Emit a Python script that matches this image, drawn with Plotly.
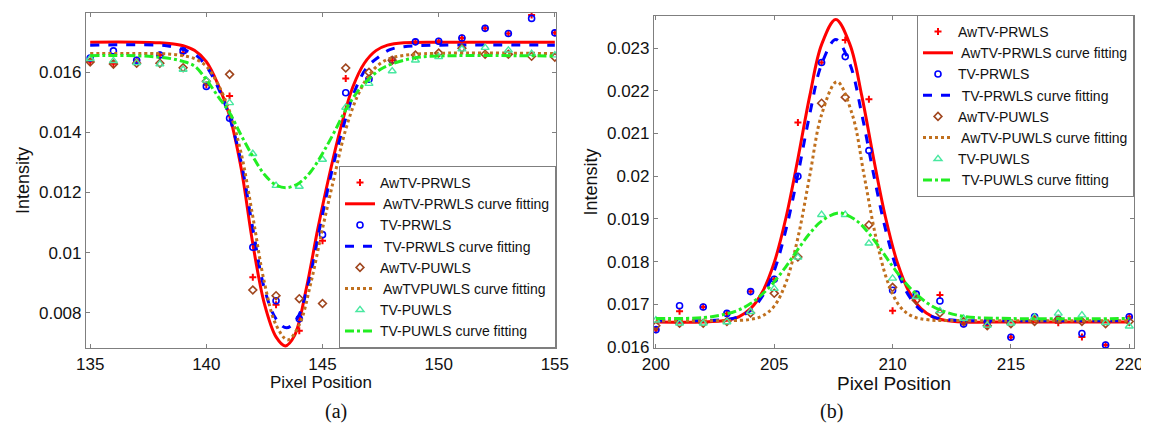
import plotly.graph_objects as go

# ---------------- Panel (a) ----------------
a_x = list(range(135, 156))
a_awtv_prwls = [0.01635, 0.01628, 0.0164, 0.01657, 0.01665, 0.01558, 0.01521, 0.00918, 0.00827, 0.0074,
                0.0104, 0.01579, 0.0158, 0.0164, 0.01701, 0.01703, 0.01714, 0.01746, 0.01729, 0.0179, 0.01731]
a_tv_prwls = [0.01647, 0.01671, 0.0164, 0.01657, 0.01671, 0.01553, 0.01447, 0.01018, 0.0084, 0.0078,
              0.0106, 0.01532, 0.01577, 0.0164, 0.01701, 0.01703, 0.01714, 0.01746, 0.01729, 0.01779, 0.01731]
a_awtv_puwls = [0.01634, 0.01627, 0.0163, 0.0163, 0.01615, 0.0157, 0.01593, 0.00876, 0.00857, 0.00847,
                0.00831, 0.01614, 0.0160, 0.0164, 0.01657, 0.01664, 0.0168, 0.0166, 0.0166, 0.01653, 0.0165]
a_tv_puwls = [0.01645, 0.01638, 0.01631, 0.01627, 0.01609, 0.01573, 0.01498, 0.01329, 0.01223, 0.0122,
              0.0131, 0.01483, 0.01562, 0.01604, 0.0164, 0.01651, 0.01677, 0.01682, 0.01673, 0.01662, 0.01657]

a_fit_red_x = [135, 137, 138, 138.5, 139, 139.5, 140, 140.5, 141, 141.5, 142, 142.5, 143, 143.4, 143.8,
               144.3, 144.8, 145.3, 145.8, 146.3, 146.8, 147.3, 147.8, 148.5, 150, 155]
a_fit_red_y = [0.0170, 0.0170, 0.01698, 0.01695, 0.01688, 0.01672, 0.01635, 0.01560, 0.01455, 0.01280,
               0.01030, 0.00830, 0.00720, 0.00690, 0.00725, 0.00880, 0.01080, 0.01260, 0.01420, 0.01550,
               0.01630, 0.01672, 0.01690, 0.01698, 0.0170, 0.0170]
a_fit_blue_x = [135, 138, 138.5, 139, 139.5, 140, 140.5, 141, 141.5, 142, 142.5, 143, 143.45, 143.9,
                144.4, 144.9, 145.4, 145.9, 146.4, 146.9, 147.4, 147.9, 148.5, 150, 155]
a_fit_blue_y = [0.0169, 0.0169, 0.01685, 0.01675, 0.0166, 0.0162, 0.0155, 0.0145, 0.0130, 0.0108, 0.0088,
                0.0078, 0.0075, 0.0078, 0.0090, 0.0109, 0.0127, 0.0142, 0.0154, 0.01615, 0.0165, 0.01675,
                0.01685, 0.0169, 0.0169]
a_fit_brown_x = [135, 138, 138.5, 139, 139.5, 140, 140.5, 141, 141.5, 142, 142.5, 143, 143.5, 144, 144.5,
                 145, 145.5, 146, 146.5, 147, 147.5, 148, 149, 155]
a_fit_brown_y = [0.01662, 0.01662, 0.0166, 0.01655, 0.01645, 0.0162, 0.0156, 0.0147, 0.0133, 0.0112,
                 0.0090, 0.0076, 0.0071, 0.0076, 0.0090, 0.0108, 0.0125, 0.0141, 0.0152, 0.0159, 0.0163,
                 0.01648, 0.0166, 0.01662]
a_fit_green_x = [135, 137, 138, 138.5, 139, 139.5, 140, 140.5, 141, 141.5, 142, 142.5, 143, 143.45, 144,
                 144.5, 145, 145.5, 146, 146.5, 147, 147.5, 148, 149, 150, 155]
a_fit_green_y = [0.01655, 0.01655, 0.0165, 0.01645, 0.01636, 0.0162, 0.01575, 0.0152, 0.01465, 0.0139,
                 0.0132, 0.0126, 0.01225, 0.01216, 0.01232, 0.0127, 0.0133, 0.0140, 0.01475, 0.01535,
                 0.01578, 0.0161, 0.01628, 0.01648, 0.01654, 0.01654]

# ---------------- Panel (b) ----------------
b_x = list(range(200, 221))
b_awtv_prwls = [0.01641, 0.01684, 0.01694, 0.01679, 0.0173, 0.01759, 0.02126, 0.02266, 0.02319, 0.0218,
                0.01685, 0.0172, 0.01722, 0.01654, 0.0165, 0.01623, 0.01671, 0.01657, 0.01624, 0.01605, 0.01671]
b_tv_prwls = [0.01641, 0.01697, 0.01694, 0.01679, 0.0173, 0.01759, 0.0200, 0.02266, 0.0228, 0.0206,
              0.01733, 0.01724, 0.01708, 0.01654, 0.0166, 0.01623, 0.01671, 0.01665, 0.01632, 0.01605, 0.01671]
b_awtv_puwls = [0.0165, 0.01656, 0.01656, 0.0166, 0.0168, 0.01726, 0.01811, 0.02171, 0.02185, 0.01886,
                0.0174, 0.0171, 0.0168, 0.0166, 0.0165, 0.01655, 0.0166, 0.01665, 0.0166, 0.01655, 0.0166]
b_tv_puwls = [0.01663, 0.01656, 0.01656, 0.01659, 0.01683, 0.01737, 0.0181, 0.0191, 0.0191, 0.01843,
              0.01761, 0.01718, 0.01685, 0.01667, 0.01651, 0.01656, 0.0167, 0.01679, 0.01675, 0.01657, 0.01649]

b_fit_x = [200, 202, 203, 203.5, 204, 204.5, 205, 205.5, 206, 206.5, 207, 207.6, 208.2, 208.7, 209.2,
           209.7, 210.2, 210.7, 211.2, 211.7, 212.2, 213, 215, 220]
b_fit_red_y = [0.01659, 0.01659, 0.01663, 0.01671, 0.0169, 0.01729, 0.01798, 0.01904, 0.02041, 0.02188,
               0.02308, 0.02367, 0.02308, 0.02188, 0.02041, 0.01904, 0.01798, 0.01729, 0.0169, 0.01671,
               0.01663, 0.01659, 0.01659, 0.01659]
b_fit_blue_y = [0.01662, 0.01662, 0.01665, 0.01671, 0.01686, 0.01719, 0.01779, 0.01876, 0.02004, 0.02145,
                0.02262, 0.0232, 0.02262, 0.02145, 0.02004, 0.01876, 0.01779, 0.01719, 0.01686, 0.01671,
                0.01665, 0.01662, 0.01662, 0.01662]
b_fit_brown_x = [200, 203, 204, 204.5, 205, 205.5, 206, 206.5, 207, 207.65, 208.3, 208.8, 209.3, 209.8,
                 210.3, 210.8, 211.5, 213, 220]
b_fit_brown_y = [0.01662, 0.01662, 0.01665, 0.01673, 0.01696, 0.01752, 0.01856, 0.02001, 0.02144, 0.02221,
                 0.02144, 0.02001, 0.01856, 0.01752, 0.01696, 0.01673, 0.01664, 0.01662, 0.01662]
b_fit_green_x = [200, 202, 203, 203.5, 204, 204.5, 205, 205.5, 206, 206.5, 207, 207.75, 208.5, 209,
                 209.5, 210, 210.5, 211, 211.5, 212, 213, 215, 220]
b_fit_green_y = [0.01667, 0.01669, 0.01678, 0.01687, 0.01702, 0.01724, 0.01753, 0.01789, 0.01829, 0.01866,
                 0.01895, 0.01914, 0.01895, 0.01866, 0.01829, 0.01789, 0.01753, 0.01724, 0.01702, 0.01687,
                 0.01672, 0.01667, 0.01667]

a_yticks = [0.008, 0.010, 0.012, 0.014, 0.016]
a_yticktext = ["0.008", "0.01", "0.012", "0.014", "0.016"]
b_yticks = [0.016, 0.017, 0.018, 0.019, 0.020, 0.021, 0.022, 0.023]
b_yticktext = ["0.016", "0.017", "0.018", "0.019", "0.02", "0.021", "0.022", "0.023"]
a_xticks = [135, 140, 145, 150, 155]
b_xticks = [200, 205, 210, 215, 220]

names_a = ["AwTV-PRWLS", " AwTV-PRWLS curve fitting", "TV-PRWLS", " TV-PRWLS curve fitting",
           "AwTV-PUWLS", " AwTVPUWLS curve fitting", "TV-PUWLS", "TV-PUWLS curve fitting"]
names_b = ["AwTV-PRWLS", " AwTV-PRWLS curve fitting", "TV-PRWLS", " TV-PRWLS curve fitting",
           "AwTV-PUWLS", " AwTV-PUWLS curve fitting", "TV-PUWLS", " TV-PUWLS curve fitting"]

RED = "#ff0000"
BLUE = "#0000ff"
BROWN_M = "#a0461e"
BROWN_L = "#c0701e"
MINT = "#48e8a0"
GREEN = "#22ee22"

fig = go.Figure()


def add_panel(xa, ya, leg, names, x, p1, p2, p3, p4, f1x, f1y, f2x, f2y, f3x, f3y, f4x, f4y):
    common = dict(xaxis=xa, yaxis=ya, legend=leg)
    fig.add_trace(go.Scatter(x=x, y=p1, mode="markers", name=names[0],
                             marker=dict(symbol="cross-thin", size=5, line=dict(color=RED, width=2)), **common))
    fig.add_trace(go.Scatter(x=f1x, y=f1y, mode="lines", name=names[1], line_shape="spline",
                             line=dict(color=RED, width=3), **common))
    fig.add_trace(go.Scatter(x=x, y=p2, mode="markers", name=names[2],
                             marker=dict(symbol="circle-open", size=6, color=BLUE, line=dict(width=1.6)), **common))
    fig.add_trace(go.Scatter(x=f2x, y=f2y, mode="lines", name=names[3], line_shape="spline",
                             line=dict(color=BLUE, width=3, dash="dash"), **common))
    fig.add_trace(go.Scatter(x=x, y=p3, mode="markers", name=names[4],
                             marker=dict(symbol="diamond-open", size=6, color=BROWN_M, line=dict(width=1.6)), **common))
    fig.add_trace(go.Scatter(x=f3x, y=f3y, mode="lines", name=names[5], line_shape="spline",
                             line=dict(color=BROWN_L, width=3, dash="dot"), **common))
    fig.add_trace(go.Scatter(x=x, y=p4, mode="markers", name=names[6],
                             marker=dict(symbol="triangle-up-open", size=7, color=MINT, line=dict(width=1.4)), **common))
    fig.add_trace(go.Scatter(x=f4x, y=f4y, mode="lines", name=names[7], line_shape="spline",
                             line=dict(color=GREEN, width=3, dash="dashdot"), **common))


add_panel("x", "y", "legend", names_a, a_x, a_awtv_prwls, a_tv_prwls, a_awtv_puwls, a_tv_puwls,
          a_fit_red_x, a_fit_red_y, a_fit_blue_x, a_fit_blue_y, a_fit_brown_x, a_fit_brown_y,
          a_fit_green_x, a_fit_green_y)
add_panel("x2", "y2", "legend2", names_b, b_x, b_awtv_prwls, b_tv_prwls, b_awtv_puwls, b_tv_puwls,
          b_fit_x, b_fit_red_y, b_fit_x, b_fit_blue_y, b_fit_brown_x, b_fit_brown_y,
          b_fit_green_x, b_fit_green_y)

axis_common = dict(showline=True, linecolor="#7f7f7f", linewidth=1.2, mirror="ticks", ticks="inside",
                   ticklen=4, tickcolor="#7f7f7f", showgrid=False, zeroline=False, automargin=False,
                   tickfont=dict(family="Liberation Sans, Arial", size=17, color="#111111"))
title_font = dict(family="Liberation Sans, Arial", size=17, color="#111111")

# The page body adds an 8px margin, so the figure is 8px smaller and all
# positions below are the reference pixel positions minus 8.
OFF = 8
W, H = 1149 - OFF, 441 - OFF


def px(v):
    return (v - OFF) / W


def py(v):
    return (H - (v - OFF)) / H


fig.update_layout(
    width=W, height=H,
    margin=dict(l=0, r=0, t=0, b=0, autoexpand=False),
    paper_bgcolor="white", plot_bgcolor="white",
    xaxis=dict(domain=[px(86), px(556)], range=[134.82, 155.05], tickvals=a_xticks, anchor="y",
               title=dict(text="Pixel Position", font=title_font, standoff=0), **axis_common),
    yaxis=dict(domain=[py(348), py(13)], range=[0.00683, 0.01797], tickvals=a_yticks,
               ticktext=a_yticktext, anchor="x",
               title=dict(text="Intensity", font=dict(family="Liberation Sans, Arial", size=18, color="#111111"),
                          standoff=4), **axis_common),
    xaxis2=dict(domain=[px(654), px(1134)], range=[199.92, 220.2], tickvals=b_xticks, anchor="y2",
                title=dict(text="Pixel Position", font=dict(family="Liberation Sans, Arial", size=19, color="#111111"),
                           standoff=0), **axis_common),
    yaxis2=dict(domain=[py(348), py(16)], range=[0.01598, 0.02375], tickvals=b_yticks,
                ticktext=b_yticktext, anchor="x2",
                title=dict(text="Intensity", font=dict(family="Liberation Sans, Arial", size=18, color="#111111"),
                           standoff=4), **axis_common),
    legend=dict(x=px(556), y=py(348), xanchor="right", yanchor="bottom", bgcolor="white",
                bordercolor="#7f7f7f", borderwidth=1, tracegroupgap=0,
                font=dict(family="Liberation Sans, Arial", size=14, color="#111111")),
    legend2=dict(x=px(1134), y=py(15), xanchor="right", yanchor="top", bgcolor="white",
                 bordercolor="#7f7f7f", borderwidth=1, tracegroupgap=0,
                 font=dict(family="Liberation Sans, Arial", size=14, color="#111111")),
    annotations=[
        dict(text="(a)", x=px(323), y=py(425), xref="paper", yref="paper", showarrow=False,
             font=dict(family="Liberation Serif, Times New Roman", size=20, color="#111111")),
        dict(text="(b)", x=px(845), y=py(425), xref="paper", yref="paper", showarrow=False,
             font=dict(family="Liberation Serif, Times New Roman", size=20, color="#111111")),
    ],
)

fig.write_html("out.html")
